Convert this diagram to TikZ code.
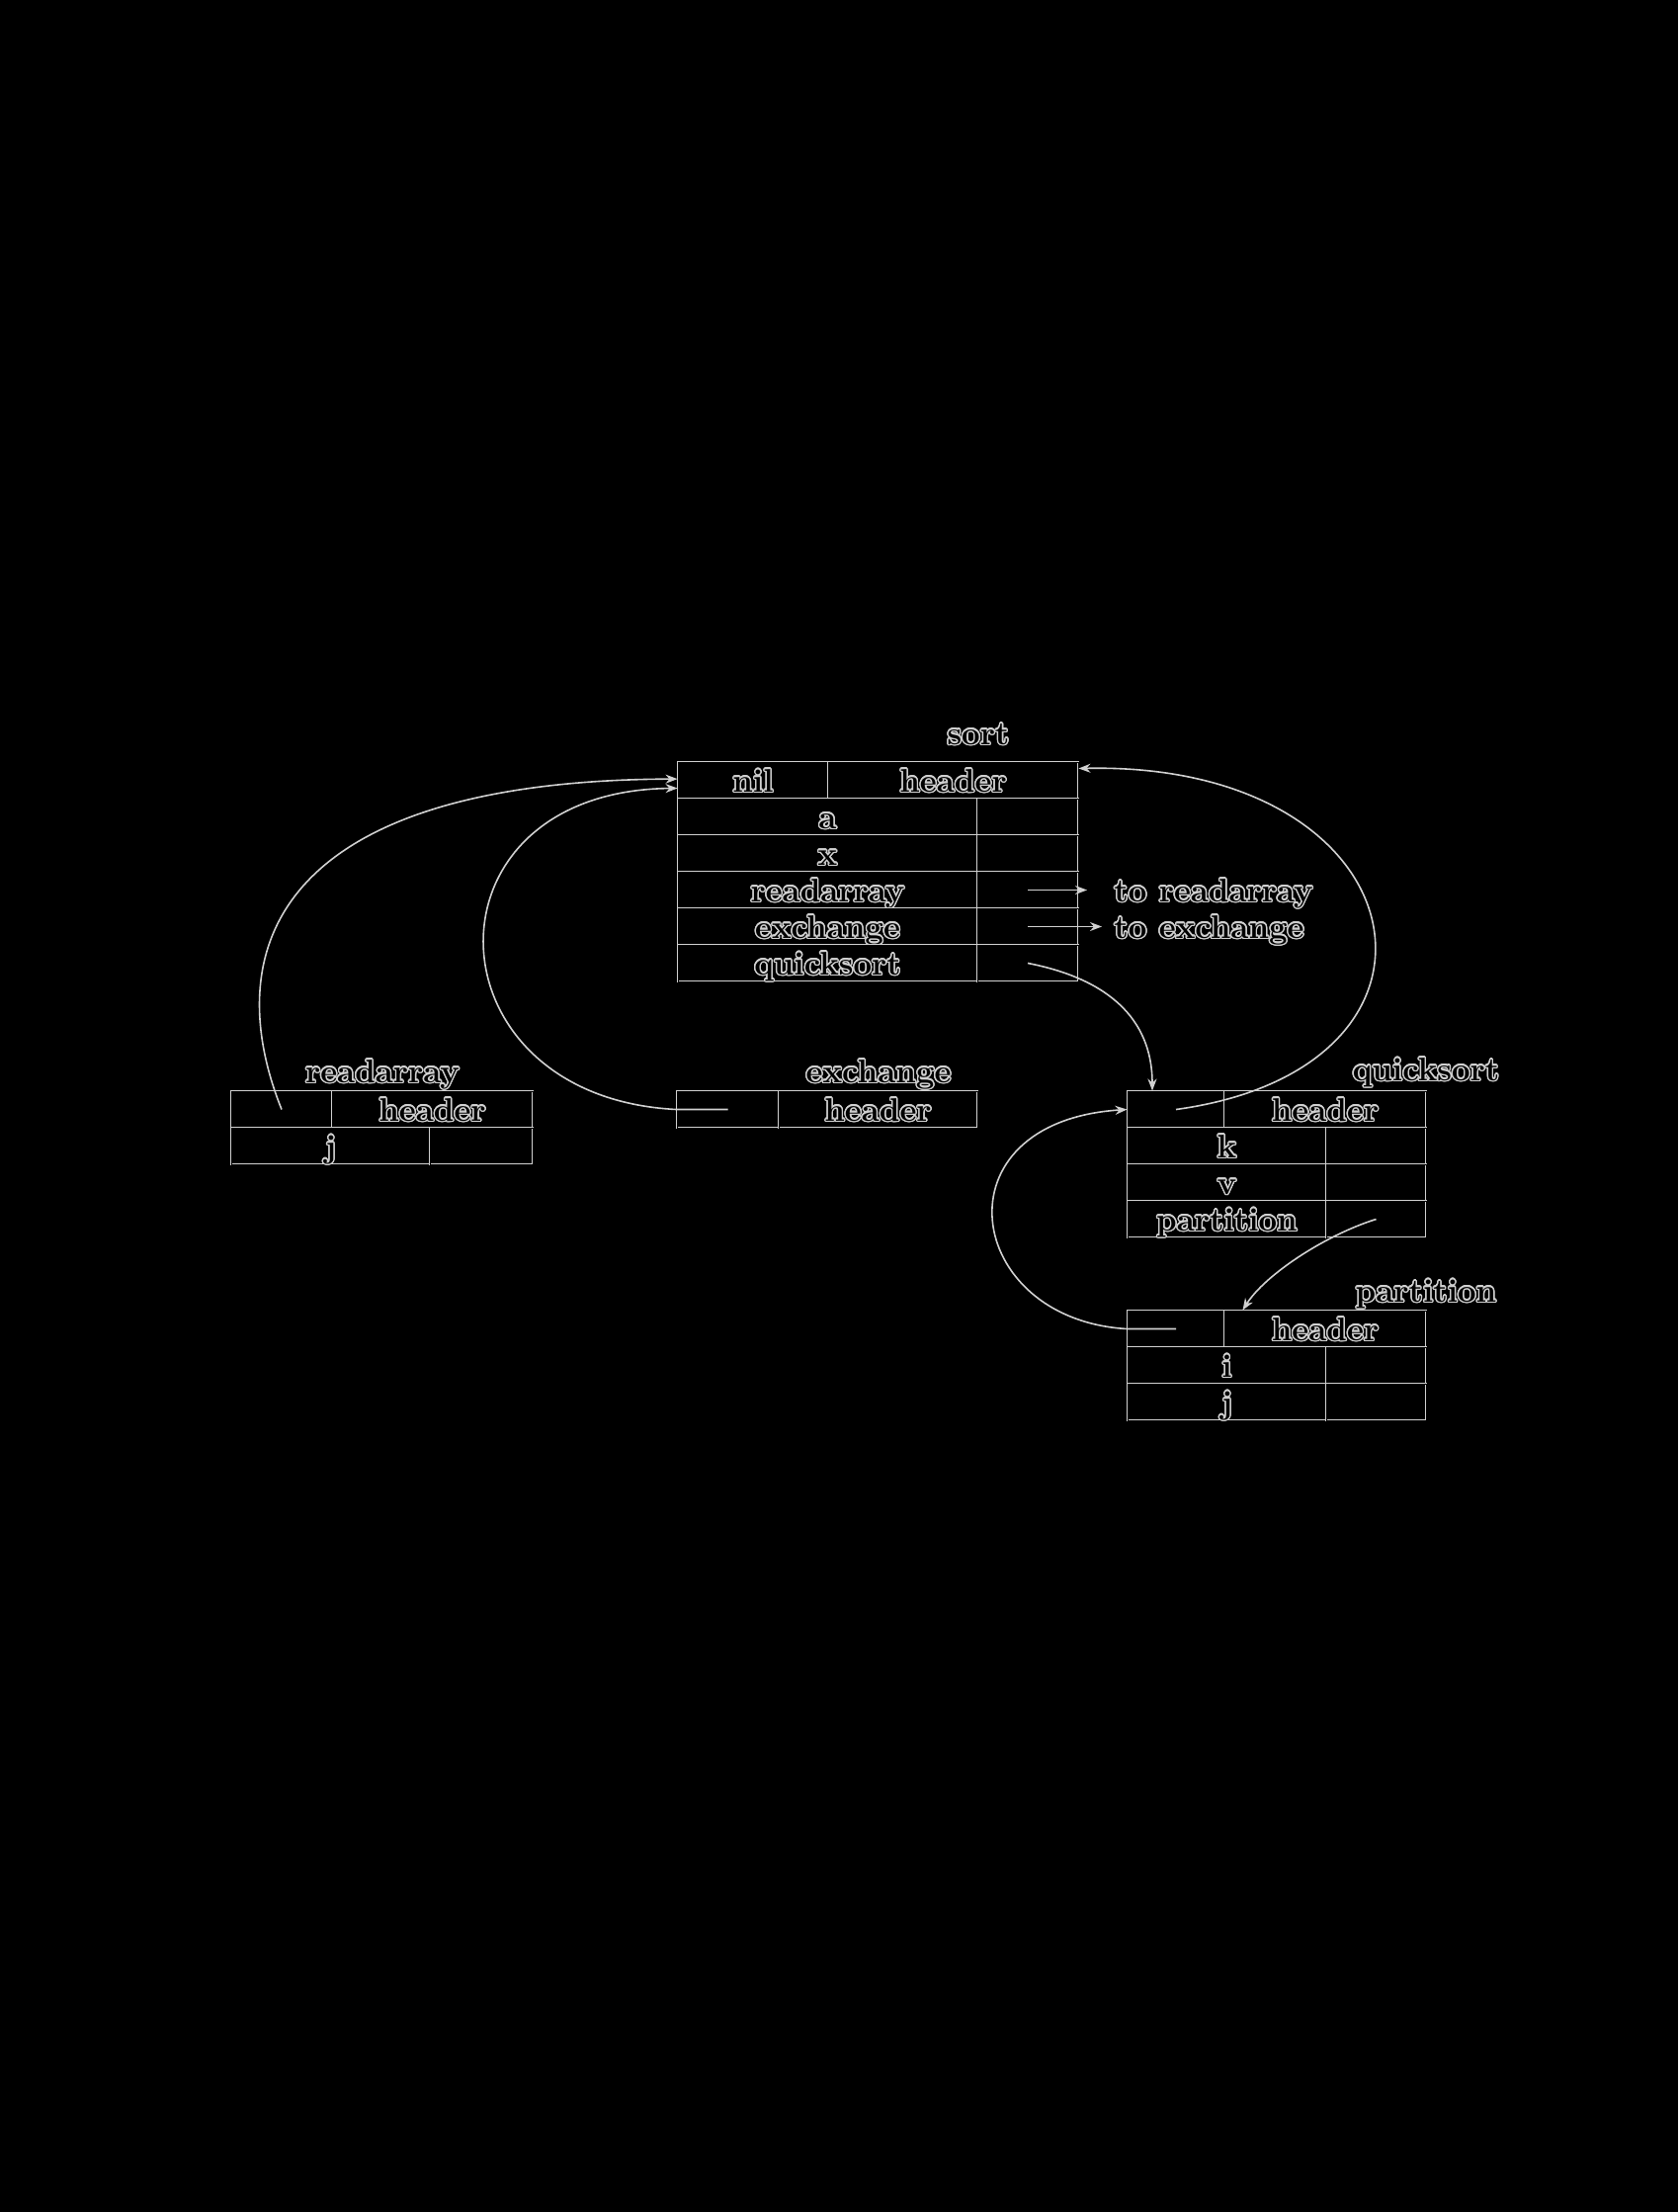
\documentclass[tikz,border=0pt]{standalone}
\usepackage{fontspec}
\usepackage[copies]{contour}
\usetikzlibrary{arrows.meta}
\definecolor{edge}{gray}{0.82}
\contourlength{0.7pt}
\newcommand{\cellfont}{\fontsize{16.5pt}{19pt}\selectfont\bfseries}
\newcommand{\lbl}[1]{\contour{edge}{#1}}
\tikzset{
  cell/.style={draw=edge, double=black, double distance=0.5pt, line width=0.45pt,
    minimum height=18.5pt, inner sep=0pt, text height=12pt, text depth=0.5pt,
    text=black, font=\cellfont},
  title/.style={inner sep=0pt, anchor=base, text=black, font=\cellfont},
  tolabel/.style={inner sep=0pt, anchor=west, text height=12pt, text depth=0.5pt,
    text=black, font=\cellfont},
  link/.style={draw=edge, line width=0.8pt, -{Stealth[length=6pt,width=4.5pt]}},
}
\begin{document}
\begin{tikzpicture}[x=0.5pt, y=-0.5pt]
\fill[black] (0,0) rectangle (1698,2238);
\useasboundingbox (0,0) rectangle (1698,2238);

% activation record of sort
\node[cell, minimum width=76pt] (sort-link) at (762,789.5) {\lbl{nil}};
\node[cell, minimum width=126.5pt] (sort-hdr) at (964.5,789.5) {\lbl{header}};
\node[cell, minimum width=151.5pt] (sort-a) at (837.5,826.5) {\lbl{a}};
\node[cell, minimum width=51pt] (sort-a-v) at (1040,826.5) {};
\node[cell, minimum width=151.5pt] (sort-x) at (837.5,863.5) {\lbl{x}};
\node[cell, minimum width=51pt] (sort-x-v) at (1040,863.5) {};
\node[cell, minimum width=151.5pt] (sort-rd) at (837.5,900.5) {\lbl{readarray}};
\node[cell, minimum width=51pt] (sort-rd-v) at (1040,900.5) {};
\node[cell, minimum width=151.5pt] (sort-ex) at (837.5,937.5) {\lbl{exchange}};
\node[cell, minimum width=51pt] (sort-ex-v) at (1040,937.5) {};
\node[cell, minimum width=151.5pt] (sort-qs) at (837.5,974.5) {\lbl{quicksort}};
\node[cell, minimum width=51pt] (sort-qs-v) at (1040,974.5) {};
\node[title] (sort-name) at (990,753) {\lbl{sort}};

\node[tolabel] (to-rd) at (1127,900.5) {\lbl{to readarray}};
\node[tolabel] (to-ex) at (1127,937.5) {\lbl{to exchange}};

% readarray
\node[cell, minimum width=51pt] (ra-link) at (285,1122.5) {};
\node[cell, minimum width=101.5pt] (ra-hdr) at (437.5,1122.5) {\lbl{header}};
\node[cell, minimum width=100.5pt] (ra-j) at (334.5,1159.5) {\lbl{j}};
\node[cell, minimum width=52pt] (ra-j-v) at (487,1159.5) {};
\node[title] (ra-name) at (387,1095) {\lbl{readarray}};

% exchange
\node[cell, minimum width=51.5pt] (ex-link) at (736.5,1122.5) {};
\node[cell, minimum width=100.5pt] (ex-hdr) at (888.5,1122.5) {\lbl{header}};
\node[title] (ex-name) at (889,1095) {\lbl{exchange}};

% quicksort
\node[cell, minimum width=49pt] (qs-link) at (1190,1122.5) {};
\node[cell, minimum width=102pt] (qs-hdr) at (1341,1122.5) {\lbl{header}};
\node[cell, minimum width=100.5pt] (qs-k) at (1241.5,1159.5) {\lbl{k}};
\node[cell, minimum width=50.5pt] (qs-k-v) at (1392.5,1159.5) {};
\node[cell, minimum width=100.5pt] (qs-v) at (1241.5,1196.5) {\lbl{v}};
\node[cell, minimum width=50.5pt] (qs-v-v) at (1392.5,1196.5) {};
\node[cell, minimum width=100.5pt] (qs-pt) at (1241.5,1233.5) {\lbl{partition}};
\node[cell, minimum width=50.5pt] (qs-pt-v) at (1392.5,1233.5) {};
\node[title] (qs-name) at (1443,1093) {\lbl{quicksort}};

% partition
\node[cell, minimum width=49pt] (pt-link) at (1190,1344.5) {};
\node[cell, minimum width=102pt] (pt-hdr) at (1341,1344.5) {\lbl{header}};
\node[cell, minimum width=100.5pt] (pt-i) at (1241.5,1381.5) {\lbl{i}};
\node[cell, minimum width=50.5pt] (pt-i-v) at (1392.5,1381.5) {};
\node[cell, minimum width=100.5pt] (pt-j) at (1241.5,1418.5) {\lbl{j}};
\node[cell, minimum width=50.5pt] (pt-j-v) at (1392.5,1418.5) {};
\node[title] (pt-name) at (1443,1317) {\lbl{partition}};

% access links
\draw[link] (ra-link.center) .. controls (220,960) and (280,790) .. ([yshift=0.7pt]sort-link.west);
\draw[link] (ex-link.center) -- (ex-link.west) .. controls (430,1110) and (420,800) .. ([yshift=-4pt]sort-link.west);
\draw[link] (qs-link.center) .. controls (1500,1080) and (1440,770) .. ([yshift=6pt]sort-hdr.east);
\draw[link] (pt-link.center) -- (pt-link.west) .. controls (975,1335) and (945,1135) .. (qs-link.west);

% procedure pointers
\draw[link] (sort-qs-v.center) .. controls (1120,990) and (1166,1030) .. ([xshift=-12pt]qs-link.north);
\draw[link] (qs-pt-v.center) .. controls (1340,1250) and (1280,1290) .. ([xshift=9pt]pt-link.north east);
\draw[link, shorten >=13.5pt] (sort-rd-v.center) -- (to-rd.west);
\draw[link, shorten >=6pt] (sort-ex-v.center) -- (to-ex.west);
\end{tikzpicture}
\end{document}
